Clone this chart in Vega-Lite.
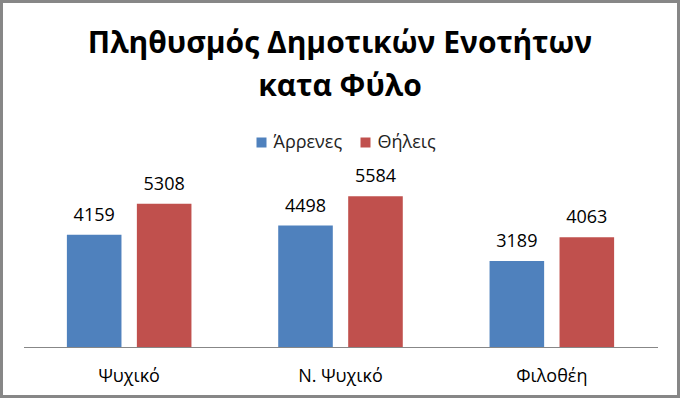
{
  "$schema": "https://vega.github.io/schema/vega-lite/v6.json",
  "autosize": {"type": "none"},
  "padding": {"left": 1.5, "top": 1.5, "right": 2.5, "bottom": 2.5},
  "width": 677,
  "height": 395,
  "background": "white",
  "config": {
    "view": {"stroke": "#878787", "strokeWidth": 3},
    "font": "Open Sans"
  },
  "title": {
    "text": ["Πληθυσμός Δημοτικών Ενοτήτων", "κατα Φύλο"],
    "orient": "top",
    "anchor": "middle",
    "offset": -100,
    "font": "Open Sans",
    "fontSize": 30,
    "fontWeight": "bold",
    "color": "#000000",
    "lineHeight": 43
  },
  "data": {
    "values": [
      {"area": "Ψυχικό", "sex": "Άρρενες", "value": 4159},
      {"area": "Ψυχικό", "sex": "Θήλεις", "value": 5308},
      {"area": "Ν. Ψυχικό", "sex": "Άρρενες", "value": 4498},
      {"area": "Ν. Ψυχικό", "sex": "Θήλεις", "value": 5584},
      {"area": "Φιλοθέη", "sex": "Άρρενες", "value": 3189},
      {"area": "Φιλοθέη", "sex": "Θήλεις", "value": 4063}
    ]
  },
  "encoding": {
    "x": {
      "field": "area",
      "type": "nominal",
      "sort": ["Ψυχικό", "Ν. Ψυχικό", "Φιλοθέη"],
      "scale": {"range": [22, 656], "paddingInner": 0, "paddingOuter": 0},
      "axis": {
        "title": null,
        "orient": "bottom",
        "offset": -49.5,
        "domainColor": "#878787",
        "domainWidth": 1,
        "ticks": false,
        "labelAngle": 0,
        "labelFont": "Open Sans",
        "labelFontSize": 18,
        "labelColor": "#000000",
        "labelPadding": 20
      }
    },
    "xOffset": {
      "field": "sex",
      "type": "nominal",
      "sort": ["Άρρενες", "Θήλεις"],
      "scale": {"paddingInner": 0.22, "paddingOuter": 0.62}
    },
    "y": {
      "field": "value",
      "type": "quantitative",
      "scale": {"domain": [-1833, 12796], "nice": false, "zero": false},
      "axis": null
    }
  },
  "layer": [
    {
      "mark": {"type": "bar"},
      "encoding": {
        "y2": {"datum": 0},
        "color": {
          "field": "sex",
          "type": "nominal",
          "sort": ["Άρρενες", "Θήλεις"],
          "scale": {"domain": ["Άρρενες", "Θήλεις"], "range": ["#4F81BD", "#C0504D"]},
          "legend": {
            "title": null,
            "orient": "none",
            "legendX": 251,
            "legendY": 132,
            "direction": "horizontal",
            "symbolType": "square",
            "symbolSize": 100,
            "symbolStrokeWidth": 0,
            "labelFont": "Open Sans",
            "labelFontSize": 18,
            "labelColor": "#222222",
            "labelOffset": 3,
            "columnPadding": 14,
            "padding": 0
          }
        }
      }
    },
    {
      "mark": {"type": "text", "baseline": "alphabetic", "dy": -14, "font": "Open Sans", "fontSize": 18, "color": "#000000"},
      "encoding": {
        "text": {"field": "value", "type": "quantitative", "format": "d"}
      }
    }
  ]
}
